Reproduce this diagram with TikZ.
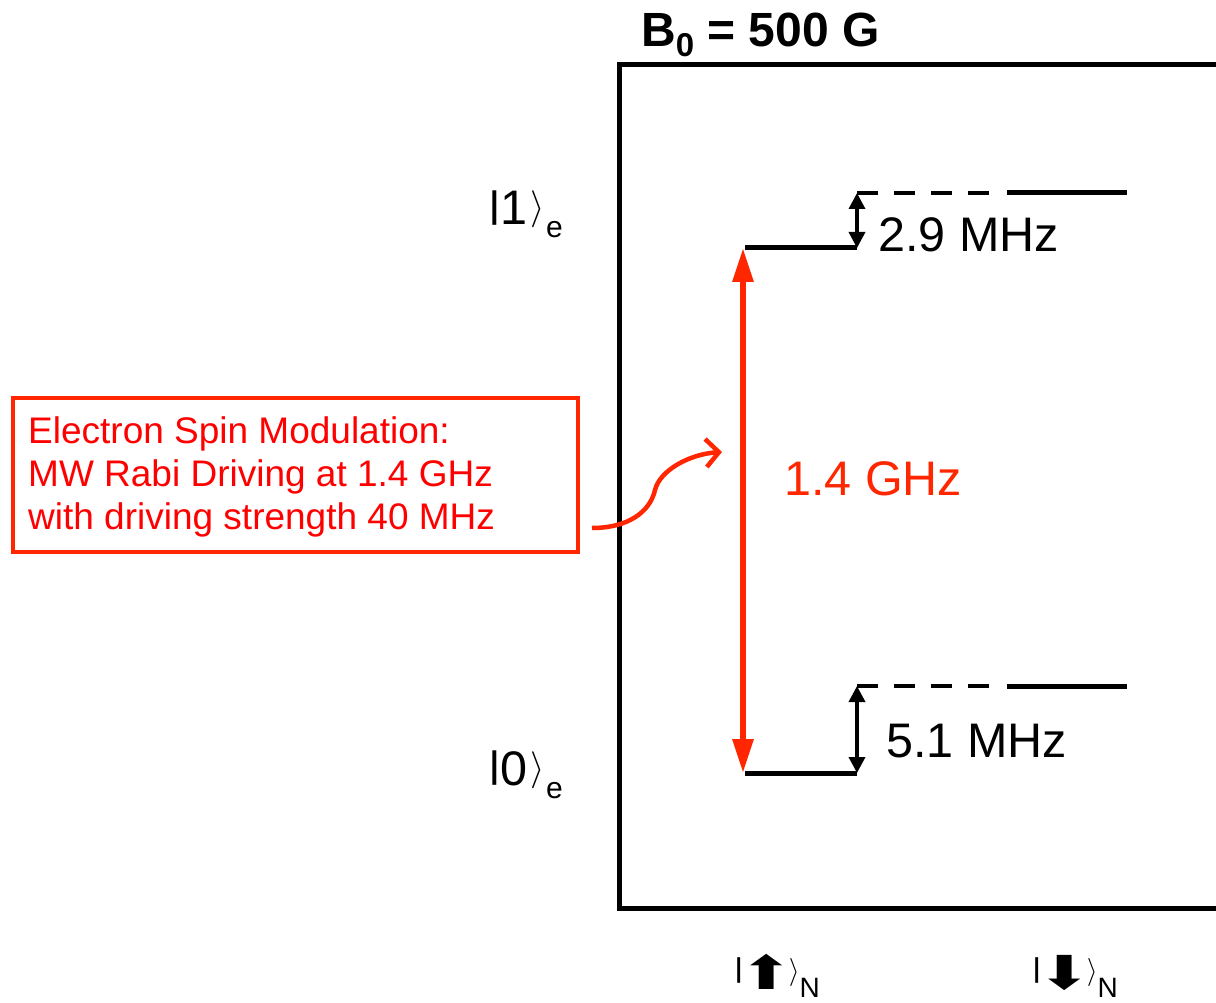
\RequirePackage{fix-cm}
\documentclass[tikz,border=0pt]{standalone}
\usepackage{fontspec}
\setmainfont{Liberation Sans}
\newfontfamily\dejavu{DejaVu Sans}
\usepackage{graphicx}
\usetikzlibrary{arrows.meta}
\definecolor{lred}{RGB}{255,38,0}
\definecolor{tred}{RGB}{255,0,0}
\newcommand{\kbar}{\raisebox{0.16em}{\scalebox{1}[0.76]{|}}}
\newcommand{\nucarrow}[1]{\raisebox{-6pt}{\scalebox{1.8}[1.3]{\dejavu #1}}}
\begin{document}
\begin{tikzpicture}[x=1pt,y=-1pt,
  lvl/.style={line width=5pt},
  dlvl/.style={line width=4.5pt, dash pattern=on 21pt off 16pt},
  txt/.style={inner sep=0pt, anchor=base west},
  bigarr/.style={lred, line width=6pt, {Triangle[length=34pt,width=20pt]}-{Triangle[length=34pt,width=20pt]}},
  splitarr/.style={line width=3.5pt, {Triangle[length=16pt,width=16pt]}-{Triangle[length=16pt,width=16pt]}},
  big/.style={font=\fontsize{48.5}{48.5}\selectfont},
]
\useasboundingbox (0,0) rectangle (1216,1003);
\clip (0,0) rectangle (1216,1003);
\fill[white] (0,0) rectangle (1216,1003);

% frame
\coordinate (fTR) at (1240,65);
\coordinate (fTL) at (619,65);
\coordinate (fBL) at (619,908);
\coordinate (fBR) at (1240,908);
\draw[line width=5pt] (fTR) -- (fTL) -- (fBL) -- (fBR);

% title
\node[txt, font=\fontsize{48}{48}\selectfont\bfseries] (B0) at (641,47) {B\raisebox{-10pt}{\fontsize{33}{33}\selectfont 0} = 500 G};

% levels
\coordinate (u1L) at (745,248);
\coordinate (u1R) at (857,248);
\coordinate (u2L) at (857,193);
\coordinate (u2M) at (1000,193);
\coordinate (u2S) at (1007,193);
\coordinate (u2R) at (1127,193);
\coordinate (l1L) at (745,773);
\coordinate (l1R) at (857,773);
\coordinate (l2L) at (857,686);
\coordinate (l2M) at (1000,686);
\coordinate (l2S) at (1007,686);
\coordinate (l2R) at (1127,686);

\draw[lvl] (u1L) -- (u1R);
\draw[dlvl] (u2L) -- (u2M);
\draw[lvl] (u2S) -- (u2R);
\draw[lvl] (l1L) -- (l1R);
\draw[dlvl] (l2L) -- (l2M);
\draw[lvl] (l2S) -- (l2R);

% splitting arrows
\draw[splitarr] (u2L) -- (u1R);
\draw[splitarr] (l2L) -- (l1R);

% MW transition arrow
\coordinate (mwTop) at (743,248);
\coordinate (mwBot) at (743,773);
\draw[bigarr] (mwBot) -- (mwTop);

% labels
\node[txt, big] (m29) at (878,252) {2.9 MHz};
\node[txt, big] (m51) at (886,757) {5.1 MHz};
\node[txt, big, lred] (ghz) at (784,495) {1.4 GHz};

% electron kets
\node[txt, big] (k1) at (488,225) {\kbar 1\kern3pt{\fontsize{37}{37}\selectfont\raisebox{6pt}{$\rangle$}}\kern1pt\raisebox{-13pt}{\fontsize{30}{30}\selectfont e}};
\node[txt, big] (k0) at (488,785) {\kbar 0\kern3pt{\fontsize{37}{37}\selectfont\raisebox{6pt}{$\rangle$}}\kern1pt\raisebox{-13pt}{\fontsize{30}{30}\selectfont e}};

% nuclear kets
\node[txt, font=\fontsize{36}{36}\selectfont] (nu) at (734,983) {\kbar\kern-4pt\nucarrow{⬆}\kern-5pt{\fontsize{28}{28}\selectfont\raisebox{4pt}{$\rangle$}}\raisebox{-14pt}{\fontsize{28}{28}\selectfont N}};
\node[txt, font=\fontsize{36}{36}\selectfont] (nd) at (1032,983) {\kbar\kern-4pt\nucarrow{⬇}\kern-5pt{\fontsize{28}{28}\selectfont\raisebox{4pt}{$\rangle$}}\raisebox{-14pt}{\fontsize{28}{28}\selectfont N}};

% annotation box
\node[draw=lred, line width=4pt, minimum width=565pt, minimum height=154pt, anchor=north west, inner sep=0pt] (mbox) at (11,396) {};
\node[txt, tred, font=\fontsize{37}{37}\selectfont] (t1) at (28,443) {Electron Spin Modulation:};
\node[txt, tred, font=\fontsize{37}{37}\selectfont] (t2) at (28,486) {MW Rabi Driving at 1.4 GHz};
\node[txt, tred, font=\fontsize{37}{37}\selectfont] (t3) at (28,529) {with driving strength 40 MHz};

% curved pointer
\coordinate (cs) at (592,528);
\coordinate (cm) at (655,490);
\coordinate (ce) at (722,452);
\draw[lred, line width=4.5pt, -{Straight Barb[length=13pt,width=28pt]}] (cs) .. controls (628,528) and (650,512) .. (cm) .. controls (660,470) and (690,454) .. (ce);
\end{tikzpicture}
\end{document}
